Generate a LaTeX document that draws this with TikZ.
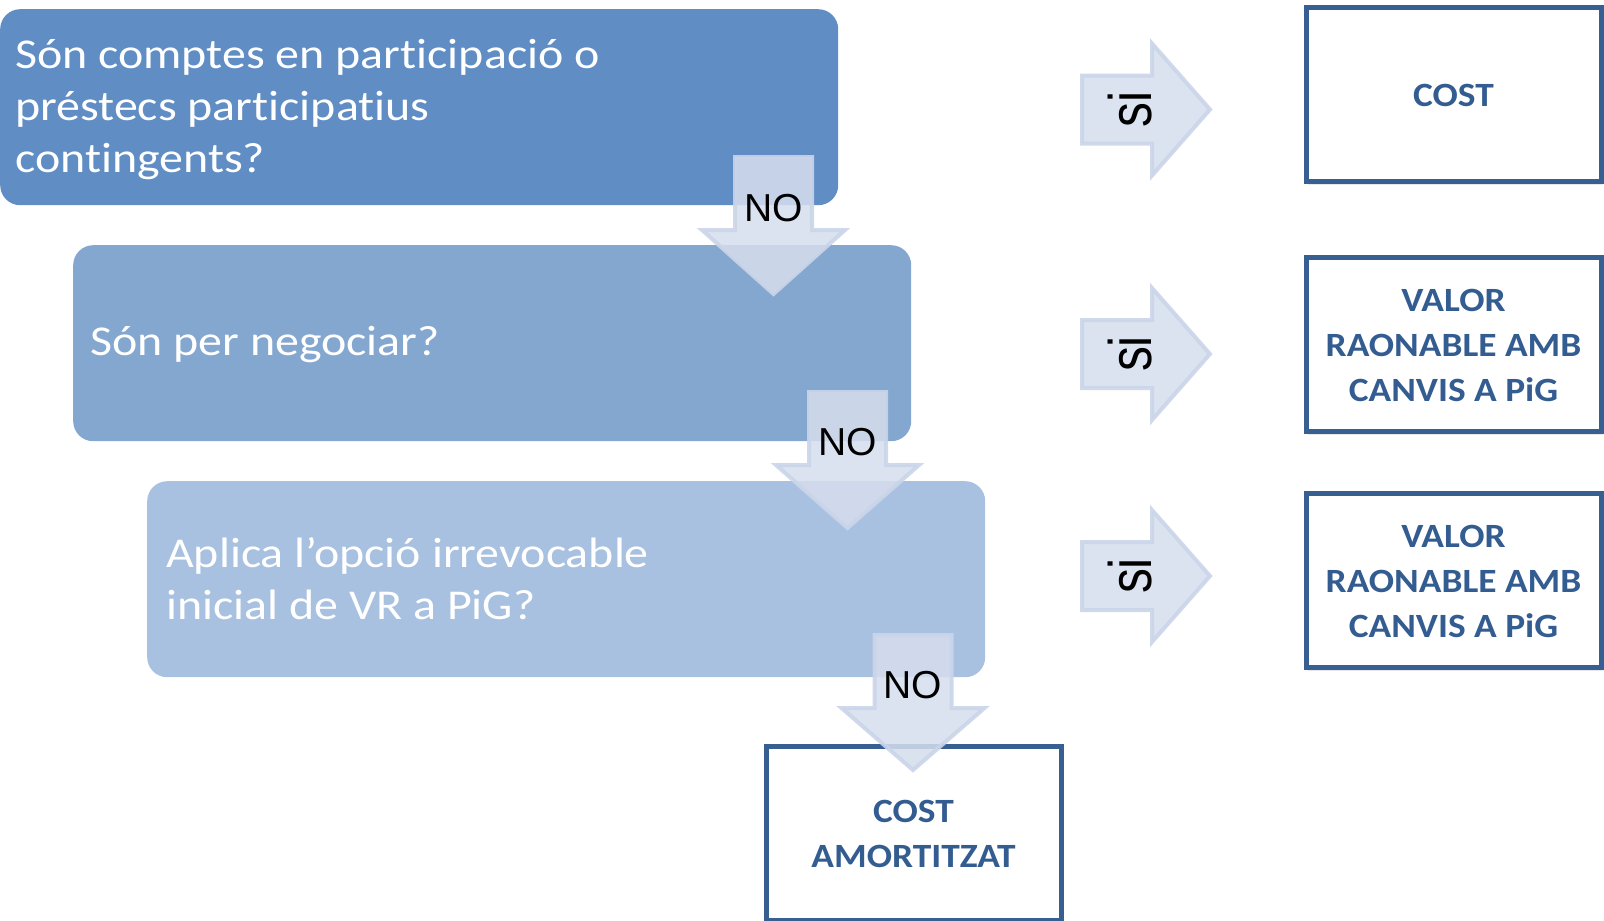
\documentclass[tikz,border=0pt]{standalone}
\usepackage{fontspec}
\setmainfont[Ligatures=NoCommon]{Carlito}
\newfontfamily\arialf{Liberation Sans}
\usetikzlibrary{shadows}
\definecolor{boxA}{HTML}{5F8DC4}
\definecolor{boxB}{HTML}{84A7D0}
\definecolor{boxC}{HTML}{A8C1E0}
\definecolor{darkb}{HTML}{375F92}
\definecolor{txtb}{HTML}{335C91}
\definecolor{arrfill}{HTML}{D6DEED}
\definecolor{arrline}{HTML}{CBD5E9}
\newcommand{\darrow}[4]{%
  \draw[arrowst] (#1-38.5,#2) -- (#1+38.5,#2) -- (#1+38.5,#3) -- (#1+71.5,#3)
    -- (#1,#4) -- (#1-71.5,#3) -- (#1-38.5,#3) -- cycle;}
\newcommand{\rarrow}[1]{%
  \draw[arrowst] (1082,#1-34) -- (1152,#1-34) -- (1152,#1-66) -- (1210,#1)
    -- (1152,#1+66) -- (1152,#1+34) -- (1082,#1+34) -- cycle;}
\newcommand{\qlines}[1]{\scalebox{1.128}[1]{\begin{tabular}[t]{@{}l@{}}#1\end{tabular}}}
\newcommand{\rlines}[1]{\raisebox{-3pt}[\height][\depth]{\scalebox{1.10}[1]{\begin{tabular}{@{}c@{}}#1\end{tabular}}}}
\begin{document}
\begin{tikzpicture}[x=1pt,y=-1pt,
  qbox/.style={draw=none, rounded corners=20pt, minimum width=838pt,
    minimum height=196pt, anchor=north west, inner sep=0pt},
  qtext/.style={anchor=base west, inner sep=0pt, text=white,
    font=\fontsize{42.5}{52}\selectfont},
  rbox/.style={draw=darkb, line width=5pt, fill=white, minimum width=295pt,
    minimum height=174pt, text=txtb, inner sep=0pt,
    font=\bfseries\fontsize{34}{45}\selectfont,
    drop shadow={opacity=0.18, shadow xshift=2pt, shadow yshift=-3pt}},
  arrowst/.style={fill=arrfill, fill opacity=0.86, draw=arrline,
    draw opacity=0.9, line width=4pt, line join=miter},
  nolab/.style={inner sep=0pt, text=black,
    font=\arialf\fontsize{39}{39}\selectfont},
  silab/.style={inner sep=0pt, text=black, rotate=90,
    font=\arialf\fontsize{60}{60}\selectfont}
]
\useasboundingbox (0,0) rectangle (1604,921);
% question boxes
\node[qbox, fill=boxA] (q1) at (0,9) {};
\node[qbox, fill=boxB] (q2) at (73,245) {};
\node[qbox, fill=boxC] (q3) at (147,481) {};
\node[qtext] (t1) at (15,68) {\qlines{Són comptes en participació o\\préstecs participatius\\contingents?}};
\node[qtext] (t2) at (90,355) {\qlines{Són per negociar?}};
\node[qtext] (t3) at (166,567) {\qlines{Aplica l’opció irrevocable\\inicial de VR a PiG?}};
% result boxes
\node[rbox] (r1) at (1453.5,94.5) {\rlines{COST}};
\node[rbox] (r2) at (1453.5,344.5) {\rlines{VALOR\\RAONABLE AMB\\CANVIS A PiG}};
\node[rbox] (r3) at (1453.5,580.5) {\rlines{VALOR\\RAONABLE AMB\\CANVIS A PiG}};
\node[rbox] (r4) at (913.5,833) {\rlines{COST\\AMORTITZAT}};
% down arrows
\darrow{773.5}{157}{230}{294}
\darrow{847.5}{392}{465}{528}
\darrow{913}{635}{708}{770}
% right arrows
\rarrow{109.5}
\rarrow{354}
\rarrow{576}
% labels
\node[nolab] (n1) at (773.5,208) {NO};
\node[nolab] (n2) at (847.5,442) {NO};
\node[nolab] (n3) at (913,685) {NO};
\node[silab] (s1) at (1130,109.5) {\scalebox{0.83}[1]{si}};
\node[silab] (s2) at (1130,354) {\scalebox{0.83}[1]{si}};
\node[silab] (s3) at (1130,576) {\scalebox{0.83}[1]{si}};
\end{tikzpicture}
\end{document}
